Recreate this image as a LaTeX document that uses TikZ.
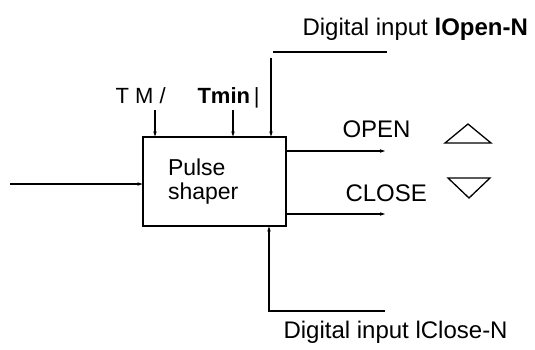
\documentclass[tikz,border=0pt]{standalone}
\usepackage{fontspec}
\setmainfont{Liberation Sans}
\usetikzlibrary{arrows.meta}
\begin{document}
\begin{tikzpicture}[x=1pt,y=-1pt,
  line width=1.1pt,
  arr/.style={-{Stealth[length=5pt,width=3.5pt]}},
  box/.style={draw,rectangle,minimum width=143pt,minimum height=89pt,
    inner xsep=25pt,text width=93pt,align=left,font=\fontsize{23}{24}\selectfont},
  lbl/.style={anchor=base west,inner sep=0pt,font=\fontsize{24}{28}\selectfont},
  slbl/.style={anchor=base west,inner sep=0pt,font=\fontsize{22}{26}\selectfont},
  tri/.style={line width=1.3pt,line join=miter}]
\useasboundingbox (0,0) rectangle (535,349);

% main block
\node[box] (ps) at (214.5,181.5) {Pulse\\shaper};

% input
\coordinate (in) at (10,184);
\draw[arr] (in) -- (in -| ps.west);

% top parameter inputs
\node[slbl] (tm) at (115,103) {T M /};
\node[slbl] (tmin) at (197,103) {\textbf{Tmin}\,|};
\coordinate (a1) at (155,110);
\coordinate (a2) at (233,110);
\draw[arr] (a1) -- (a1 |- ps.north);
\draw[arr] (a2) -- (a2 |- ps.north);

% digital input open
\node[lbl] (dio) at (302,35) {Digital input \textbf{lOpen-N}};
\coordinate (ol1) at (273,52);
\coordinate (ol2) at (387,52);
\draw (ol1) -- (ol2);
\coordinate (ov) at (271,58);
\draw[arr] (ov) -- (ov |- ps.north);
\coordinate (th1) at (271,79);
\coordinate (th2) at (271,110);
\draw[line width=2.4pt] (th1) -- (th2);

% outputs
\coordinate (oo) at (385,151);
\coordinate (oc) at (385,214);
\draw[arr] (oo -| ps.east) -- (oo);
\draw[arr] (oc -| ps.east) -- (oc);
\node[lbl] (open) at (342,137) {OPEN};
\node[lbl] (close) at (345,201) {CLOSE};
\draw[tri] (445,143) -- (491,143) -- (468,124) -- cycle;
\draw[tri] (448,178) -- (490,178) -- (469,198) -- cycle;

% digital input close
\coordinate (be) at (385,311);
\coordinate (bc) at (269,311);
\draw[arr] (be) -- (bc) -- (bc |- ps.south);
\node[lbl] (dic) at (283,338) {Digital input lClose-N};
\end{tikzpicture}
\end{document}
